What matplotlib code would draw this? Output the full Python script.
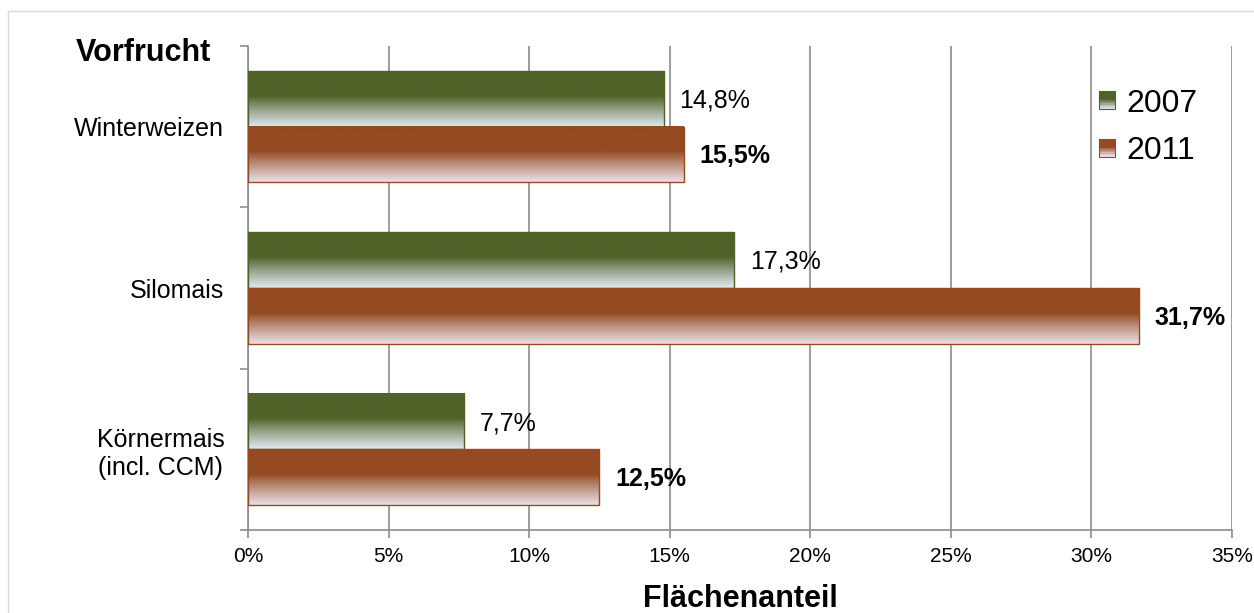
import numpy as np
import matplotlib
matplotlib.use("Agg")
import matplotlib.pyplot as plt
from matplotlib.patches import Rectangle
from matplotlib.legend_handler import HandlerBase
from matplotlib.colors import to_rgb

# --- Daten ---
kategorien = ["Winterweizen", "Silomais", "Körnermais\n(incl. CCM)"]
werte_2007 = [14.8, 17.3, 7.7]
werte_2011 = [15.5, 31.7, 12.5]
labels_2007 = ["14,8%", "17,3%", "7,7%"]
labels_2011 = ["15,5%", "31,7%", "12,5%"]
xticks = [0, 5, 10, 15, 20, 25, 30, 35]

GRUEN = "#4f6228"
GRUEN_HELL = "#e2e8ef"
ORANGE = "#954a21"
ORANGE_HELL = "#e8dfe4"
GRAU = "#8c8c8c"

plt.rcParams["font.family"] = ["Liberation Sans", "DejaVu Sans"]


def verlauf(c_oben, c_unten, n=64):
    """Farbverlauf: obere Haelfte voll, unten auf hell auslaufend."""
    a = np.array(to_rgb(c_oben))
    b = np.array(to_rgb(c_unten))
    t = np.linspace(0, 1, n)
    w = np.clip((t - 0.45) / 0.55, 0, 1) ** 0.9
    return (a[None, :] * (1 - w[:, None]) + b[None, :] * w[:, None])[:, None, :]


class VerlaufHandler(HandlerBase):
    def __init__(self, c_oben, c_unten, **kw):
        super().__init__(**kw)
        self.farben = verlauf(c_oben, c_unten, 12)[:, 0, :]
        self.rand = c_oben

    def create_artists(self, legend, orig_handle, xdescent, ydescent,
                       width, height, fontsize, trans):
        arts = []
        n = len(self.farben)
        for i, f in enumerate(self.farben):
            y0 = -ydescent + height * (1 - (i + 1) / n)
            arts.append(Rectangle((-xdescent, y0), width, height / n,
                                  facecolor=f, edgecolor="none", transform=trans))
        arts.append(Rectangle((-xdescent, -ydescent), width, height,
                              facecolor="none", edgecolor=self.rand, lw=0.8,
                              transform=trans))
        return arts


fig = plt.figure(figsize=(12.54, 6.13), dpi=100)
fig.patches.append(Rectangle((8 / 1254, -0.05), 1.1, 1 - 11 / 613 + 0.05,
                             transform=fig.transFigure, facecolor="none",
                             edgecolor="#d9d9d9", lw=1.0))
ax = fig.add_axes([248 / 1254, 1 - 530 / 613, 984 / 1254, 484 / 613])

pos = np.array([2, 1, 0])
off = 0.173
h = 0.345

for i, p in enumerate(pos):
    for wert, y, c1, c2, lab, fw in [
            (werte_2007[i], p + off, GRUEN, GRUEN_HELL, labels_2007[i], "normal"),
            (werte_2011[i], p - off, ORANGE, ORANGE_HELL, labels_2011[i], "bold")]:
        ax.imshow(verlauf(c1, c2), extent=[0, wert, y - h / 2, y + h / 2],
                  aspect="auto", origin="upper", zorder=3, interpolation="bilinear")
        ax.barh(y, wert, height=h, facecolor="none", edgecolor=c1, lw=1.0, zorder=4)
        ax.text(wert + 0.55, y - 0.01, lab, va="center", ha="left", fontsize=18,
                fontweight=fw, color="black", zorder=5)

ax.set_xlim(0, 35)
ax.set_ylim(-0.5, 2.5)
ax.set_xticks(xticks)
ax.set_xticklabels([f"{v}%" for v in xticks])
ax.set_yticks([-0.5, 0.5, 1.5, 2.5])
ax.set_yticklabels([])
ax.set_yticks(pos, kategorien, minor=True)
ax.tick_params(axis="y", which="minor", length=0, pad=17, labelsize=18)
for t in ax.get_yticklabels(minor=True):
    t.set_multialignment("center")
ax.tick_params(axis="y", which="major", length=6, color=GRAU, width=1.2)
ax.tick_params(axis="x", length=6, color=GRAU, width=1.2, pad=6, labelsize=15)
ax.grid(axis="x", color=GRAU, lw=1.2, zorder=0)
ax.set_axisbelow(True)
for s in ["top", "right"]:
    ax.spines[s].set_visible(False)
for s in ["left", "bottom"]:
    ax.spines[s].set_color(GRAU)
    ax.spines[s].set_linewidth(1.2)

ax.set_xlabel("Flächenanteil", fontsize=22, fontweight="bold", labelpad=13)
fig.text(143 / 1254, 1 - 53 / 613, "Vorfrucht", fontsize=22, fontweight="bold",
         ha="center", va="center")

h07 = Rectangle((0, 0), 1, 1)
h11 = Rectangle((0, 0), 1, 1)
ax.legend([h07, h11], ["2007", "2011"],
          handler_map={h07: VerlaufHandler(GRUEN, GRUEN_HELL),
                       h11: VerlaufHandler(ORANGE, ORANGE_HELL)},
          loc="upper right", bbox_to_anchor=(0.965, 0.912), frameon=False,
          fontsize=23, handlelength=0.5, handleheight=0.5, handletextpad=0.35,
          labelspacing=0.55, borderaxespad=0, borderpad=0)

fig.savefig("out.png", dpi=100)
